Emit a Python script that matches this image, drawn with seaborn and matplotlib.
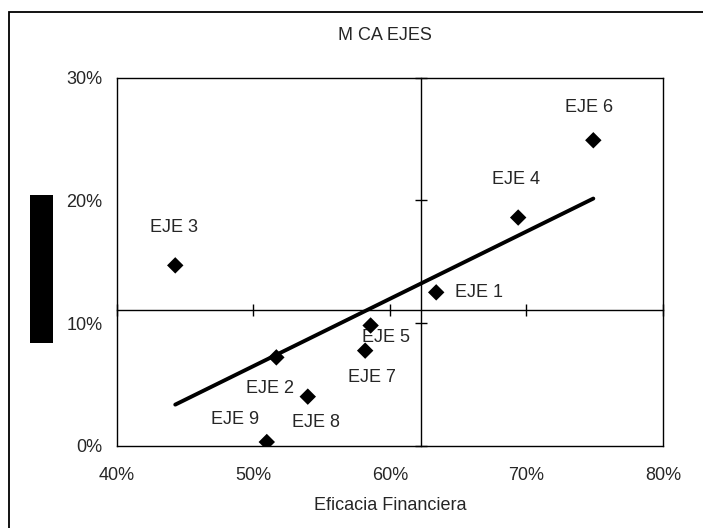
import numpy as np
import pandas as pd
import seaborn as sns
import matplotlib.pyplot as plt
from matplotlib.patches import Rectangle
from matplotlib.ticker import PercentFormatter

# data (percent values)
ejes = ["EJE 1", "EJE 2", "EJE 3", "EJE 4", "EJE 5", "EJE 6", "EJE 7", "EJE 8", "EJE 9"]
eficacia_financiera = [63.4, 51.7, 44.3, 69.4, 58.6, 74.9, 58.2, 54.0, 51.0]
eje_y = [12.5, 7.2, 14.7, 18.6, 9.8, 24.9, 7.75, 4.0, 0.3]

x_ticks = [40, 50, 60, 70, 80]
y_ticks = [0, 10, 20, 30]
x_cross = 62.3
y_cross = 11.1

# label offsets in pixels (dx, dy, ha)
label_offsets = {
    "EJE 1": (19, -5, "left"),
    "EJE 2": (-6, -36, "center"),
    "EJE 3": (-1, 33, "center"),
    "EJE 4": (-2, 34, "center"),
    "EJE 5": (15, -17, "center"),
    "EJE 6": (-4, 28, "center"),
    "EJE 7": (7, -31, "center"),
    "EJE 8": (8, -30, "center"),
    "EJE 9": (-32, 18, "center"),
}

df = pd.DataFrame({"eje": ejes, "x": eficacia_financiera, "y": eje_y})

sns.set_style("white")
plt.rcParams["font.family"] = ["Liberation Sans", "DejaVu Sans"]
plt.rcParams["font.size"] = 13

fig = plt.figure(figsize=(7.03, 5.28), dpi=100)
ax = fig.add_axes([116.5 / 703, 1 - 445.7 / 528, 546.5 / 703, 368 / 528])

# outer chart border (only left/top visible in the crop)
fig.patches.append(Rectangle((8.5 / 703, -0.1), 1.2, 1.1 - 12 / 528,
                             transform=fig.transFigure, fill=False,
                             edgecolor="black", lw=1.3))
# redacted y-axis title
fig.patches.append(Rectangle((30 / 703, 1 - 343 / 528), 23 / 703, 148 / 528,
                             transform=fig.transFigure, facecolor="black",
                             edgecolor="none"))

sns.regplot(data=df, x="x", y="y", scatter=False, ci=None, truncate=True,
            color="black", line_kws={"lw": 2.8, "solid_capstyle": "round"}, ax=ax)
sns.scatterplot(data=df, x="x", y="y", marker="D", s=70, color="black",
                edgecolor="none", ax=ax, zorder=5)

for _, row in df.iterrows():
    dx, dy, ha = label_offsets[row["eje"]]
    ax.annotate(row["eje"], (row["x"], row["y"]), xytext=(dx, dy),
                textcoords="offset pixels", ha=ha, va="baseline", fontsize=13)

ax.set_xlim(40, 80)
ax.set_ylim(0, 30)
ax.set_xticks(x_ticks)
ax.set_yticks(y_ticks)
ax.xaxis.set_major_formatter(PercentFormatter(decimals=0))
ax.yaxis.set_major_formatter(PercentFormatter(decimals=0))
ax.tick_params(length=0, labelsize=13)
ax.tick_params(axis="x", pad=15)
ax.tick_params(axis="y", pad=10)
ax.set_xlabel("Eficacia Financiera", fontsize=13, labelpad=10)
ax.set_ylabel("")
for sp in ax.spines.values():
    sp.set_visible(True)
    sp.set_color("black")
    sp.set_linewidth(1.0)

# crossing axes with tick marks
ax2 = fig.add_axes(ax.get_position(), sharex=ax, sharey=ax)
ax2.patch.set_alpha(0)
ax2.spines["top"].set_visible(False)
ax2.spines["right"].set_visible(False)
ax2.spines["left"].set_position(("data", x_cross))
ax2.spines["bottom"].set_position(("data", y_cross))
for k in ("left", "bottom"):
    ax2.spines[k].set_color("black")
    ax2.spines[k].set_linewidth(1.0)
ax2.tick_params(direction="inout", length=8, width=1.0, color="black",
                labelleft=False, labelbottom=False, left=True, bottom=True)

fig.text(385 / 703, 1 - 40 / 528, "M CA EJES", ha="center", va="baseline",
         fontsize=13)

fig.savefig("out.png", dpi=100)
